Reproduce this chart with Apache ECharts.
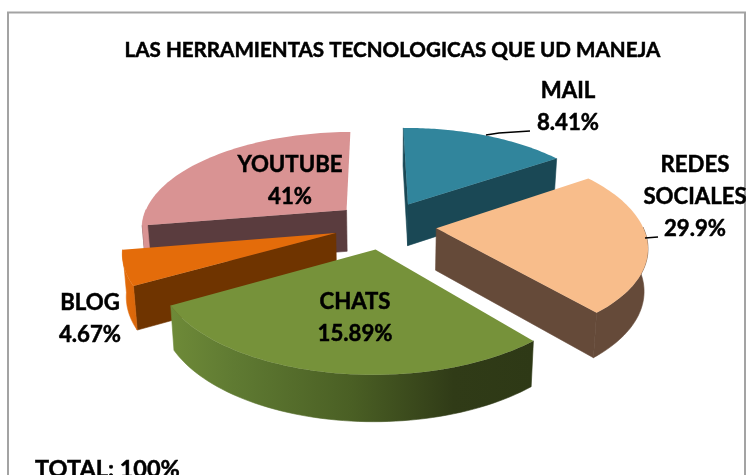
<!DOCTYPE html>
<html>
<head>
<meta charset="utf-8">
<style>html,body{margin:0;padding:0;background:#fff}#c{width:746px;height:475px}</style>
<script src="https://cdn.jsdelivr.net/npm/echarts@6/dist/echarts.min.js"></script>
</head>
<body>
<div id="c"></div>
<script>
// Data
const titleText = 'LAS HERRAMIENTAS TECNOLOGICAS QUE UD MANEJA';
const totalText = 'TOTAL: 100%';
const categories = ['MAIL', 'REDES SOCIALES', 'CHATS', 'BLOG', 'YOUTUBE'];
const printedPercent = ['8.41%', '29.9%', '15.89%', '4.67%', '41%'];
// Slice sizes as drawn in the picture (the printed labels do not match them)
const drawnShare = [15.6, 23.4, 27.9, 5.6, 27.5];

// Styles and layout
const topColors = ['#31859c', '#f8bd8b', '#76923a', '#e46c0a', '#d99393'];
const cutColors = ['#1a4855', '#654a39', '#6f3400', '#6f3400', '#5a3c3e'];
const rimStops = [
  [['#1a4855', 0], ['#1a4855', 1]],
  [['#654a39', 0], ['#654a39', 1]],
  [['#6e8a38', 0], ['#5f7a32', .18], ['#4a5f24', .5], ['#303b17', .78], ['#2e3916', 1]],
  [['#e46c0a', 0], ['#d8660a', 1]],
  [['#d99393', 0], ['#d99393', 1]]
];
const paintOrder = [4, 0, 3, 1, 2];
const labelLines = [['MAIL'], ['REDES', 'SOCIALES'], ['CHATS'], ['BLOG'], ['YOUTUBE']];
const labelAnchor = [[568, 91], [695, 165], [355, 302], [90, 303], [290, 165]];
const lineGap = 32;
const view = { cx: 385, cy: 225, rx: 206, ry: 95.5, persp: 0.165, depth: 41.8, explode: 0.25, taper: 0.985, startDeg: -0.5 };

function project(x, z, low) {
  const s = 1 / (1 - view.persp * z);
  let px = view.rx * x * s, py = view.ry * z * s;
  if (low) { px *= view.taper; py += view.depth * Math.sqrt(s); }
  return [view.cx + px, view.cy + py];
}

const total = drawnShare.reduce((a, b) => a + b, 0);
const startAngles = [];
drawnShare.reduce((acc, v, i) => { startAngles[i] = acc; return acc + v / total * 360; }, view.startDeg);

function renderSlice(params, api) {
  const i = api.value(0);
  const a0 = startAngles[i] * Math.PI / 180;
  const a1 = a0 + api.value(1) / total * 2 * Math.PI;
  const mid = (a0 + a1) / 2;
  const ox = Math.sin(mid) * view.explode, oz = -Math.cos(mid) * view.explode;
  const pt = (a, r, low) => api.coord(project(ox + r * Math.sin(a), oz - r * Math.cos(a), low));
  const N = 60, children = [];
  const arc = [], rimTop = [], rimLow = [];
  for (let k = 0; k <= N; k++) {
    const a = a0 + (a1 - a0) * k / N;
    arc.push(pt(a, 1, false));
    if (Math.cos(a) <= 0.02) { rimTop.push(pt(a, 1, false)); rimLow.push(pt(a, 1, true)); }
  }
  const wall = (a) => ({ type: 'polygon', shape: { points: [pt(a, 0, false), pt(a, 1, false), pt(a, 1, true), pt(a, 0, true)] }, style: { fill: cutColors[i], stroke: cutColors[i], lineWidth: 0.6 } });
  if (-Math.sin(a0) > 0) children.push(wall(a0));
  if (Math.sin(a1) > 0) children.push(wall(a1));
  if (rimTop.length > 1) {
    const grad = { type: 'linear', x: 0, y: 0, x2: 1, y2: 0, colorStops: rimStops[i].map(s => ({ color: s[0], offset: s[1] })) };
    children.push({
      type: 'polygon',
      shape: { points: rimTop.concat(rimLow.reverse()) },
      style: { fill: grad, stroke: grad, lineWidth: 0.6 }
    });
  }
  children.push({ type: 'polygon', shape: { points: [pt(a0, 0, false)].concat(arc) }, style: { fill: topColors[i] } });
  return { type: 'group', children };
}

const font = { fontFamily: 'Lato', fontWeight: 'bold', stroke: '#000', lineWidth: 0.5 };
const graphics = [
  { type: 'rect', z: 0, shape: { x: 8, y: 12.5, width: 737, height: 480 }, style: { fill: '#fff', stroke: '#a3a3a3', lineWidth: 2 } },
  { type: 'text', z: 5, style: Object.assign({ x: 392.5, y: 50, text: titleText, fontSize: 20.6, fill: '#000', align: 'center', verticalAlign: 'middle' }, font) },
  { type: 'text', z: 5, style: Object.assign({ x: 35, y: 469, text: totalText, fontSize: 23.5, fill: '#000', align: 'left', verticalAlign: 'middle' }, font) },
  { type: 'polyline', z: 5, shape: { points: [[486, 135], [499, 133], [530, 131]] }, style: { fill: null, stroke: '#000', lineWidth: 1.6 } },
  { type: 'polyline', z: 5, shape: { points: [[645, 238], [658, 237]] }, style: { fill: null, stroke: '#000', lineWidth: 1.6 } }
];
categories.forEach((c, i) => {
  const lines = labelLines[i].concat([printedPercent[i]]);
  lines.forEach((t, j) => graphics.push({
    type: 'text', z: 5,
    style: Object.assign({ x: labelAnchor[i][0], y: labelAnchor[i][1] + j * lineGap, text: t, fontSize: 22.2, fill: '#000', align: 'center', verticalAlign: 'middle' }, font)
  }));
});

const chart = echarts.init(document.getElementById('c'), null, { renderer: 'canvas' });
chart.setOption({
  animation: false,
  backgroundColor: '#fff',
  grid: { left: 0, right: 0, top: 0, bottom: 0 },
  xAxis: { type: 'value', min: 0, max: 746, show: false },
  yAxis: { type: 'value', min: 0, max: 475, inverse: true, show: false },
  graphic: graphics,
  series: [{
    type: 'custom',
    coordinateSystem: 'cartesian2d',
    clip: false,
    z: 3,
    renderItem: renderSlice,
    data: paintOrder.map(i => ({ name: categories[i], value: [i, drawnShare[i]] })),
    encode: { x: 0, y: 1 }
  }]
});
</script>
</body>
</html>
